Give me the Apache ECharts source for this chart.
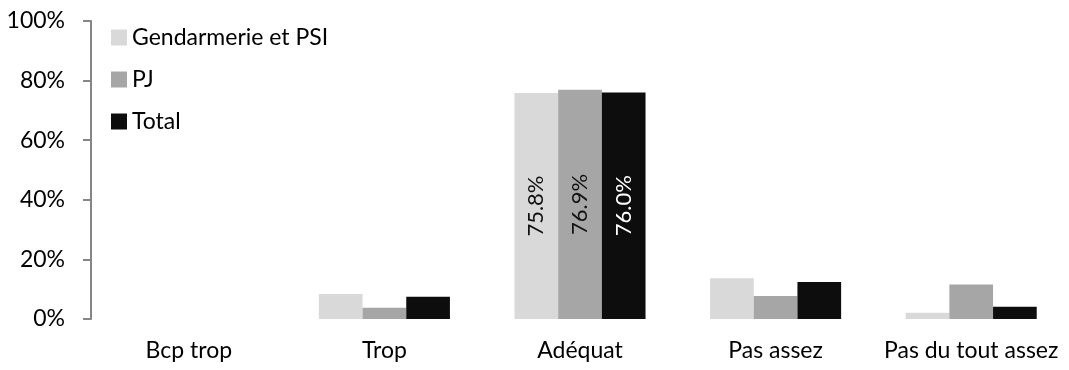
<!DOCTYPE html>
<html>
<head>
<meta charset="utf-8">
<script src="https://cdn.jsdelivr.net/npm/echarts@6/dist/echarts.min.js"></script>
<style>
  html, body { margin: 0; padding: 0; background: #fff; }
  #chart { width: 1069px; height: 370px; }
</style>
</head>
<body>
<div id="chart"></div>
<script>
const categories = ['Bcp trop', 'Trop', 'Adéquat', 'Pas assez', 'Pas du tout assez'];
const seriesNames = ['Gendarmerie et PSI', 'PJ', 'Total'];
const gendarmerie = [0, 8.4, 75.8, 13.7, 2.1];
const pj = [0, 3.8, 76.9, 7.7, 11.6];
const total = [0, 7.5, 76.0, 12.4, 4.1];
const labelledCategory = 'Adéquat';
const yTicks = { min: 0, max: 100, interval: 20 };

const FONT = 'Lato';
const colors = ['#d9d9d9', '#a6a6a6', '#0d0d0d'];
const labelColors = ['#111', '#111', '#fff'];
const values = [gendarmerie, pj, total];

const chart = echarts.init(document.getElementById('chart'), null, { renderer: 'canvas' });

const series = seriesNames.map((name, i) => ({
  name: name,
  type: 'bar',
  barGap: '0%',
  barCategoryGap: '33%',
  itemStyle: { color: colors[i] },
  data: values[i].map((v, j) => ({
    value: v,
    label: {
      show: categories[j] === labelledCategory,
      position: 'inside',
      rotate: 90,
      formatter: (p) => p.value.toFixed(1) + '%',
      color: labelColors[i],
      fontFamily: FONT,
      fontSize: 22
    }
  }))
}));

chart.setOption({
  animation: false,
  color: colors,
  textStyle: { fontFamily: FONT },
  grid: { left: 91, right: -4, top: 21, bottom: 51, containLabel: false },
  legend: {
    orient: 'vertical',
    left: 106,
    top: 20,
    itemWidth: 16,
    itemHeight: 16,
    itemGap: 17,
    icon: 'rect',
    textStyle: { fontFamily: FONT, fontSize: 23, color: '#000', lineHeight: 25 },
    data: seriesNames
  },
  xAxis: {
    type: 'category',
    data: categories,
    axisLine: { show: false },
    axisTick: { show: false },
    axisLabel: { fontFamily: FONT, fontSize: 23, color: '#000', margin: 20, interval: 0 }
  },
  yAxis: {
    type: 'value',
    min: yTicks.min,
    max: yTicks.max,
    interval: yTicks.interval,
    axisLine: { show: true, lineStyle: { color: '#868686', width: 2 } },
    axisTick: { show: true, length: 8, lineStyle: { color: '#868686', width: 2 } },
    splitLine: { show: false },
    axisLabel: { formatter: '{value}%', fontFamily: FONT, fontSize: 23, color: '#000', margin: 26 }
  },
  series: series
});
</script>
</body>
</html>
